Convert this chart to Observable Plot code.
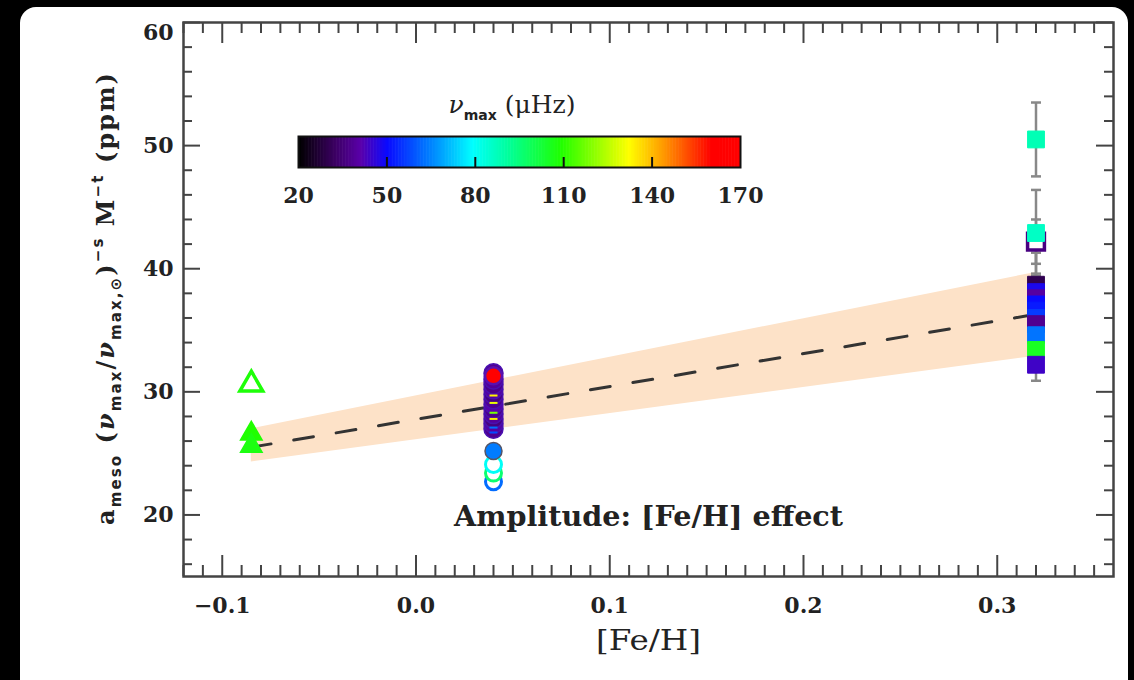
<!DOCTYPE html>
<html><head><meta charset="utf-8">
<script src="https://cdn.jsdelivr.net/npm/d3@7"></script>
<script src="https://cdn.jsdelivr.net/npm/@observablehq/plot@0.6"></script>
<style>
html,body{margin:0;padding:0;background:#000;width:1134px;height:680px;overflow:hidden;}
#panel{position:absolute;left:20px;top:7px;width:1108px;height:700px;background:#fff;border-radius:16px;}
#main{position:absolute;left:0;top:0;}
#cbar{position:absolute;left:268px;top:86px;}
</style></head><body>
<div id="panel"></div>
<div id="main"></div>
<div id="cbar"></div>
<script>
// ---------- data ----------
// NGC 6811-like group (triangles)
const triFeH   = [-0.085, -0.085, -0.085];
const triAmp   = [30.6, 26.6, 25.6];
const triNumax = [108, 109, 107];
const triOpen  = [true, false, false];

// NGC 6819-like group (circles)
const circFeH   = [0.04, 0.04, 0.04, 0.04, 0.04, 0.04, 0.04, 0.04, 0.04, 0.04, 0.04, 0.04, 0.04];
const circAmp   = [27.0, 27.4, 27.8, 28.2, 28.6, 29.0, 29.4, 29.8, 30.2, 30.6, 31.0, 31.5, 31.3];
const circNumax = [38, 40, 36, 39, 37, 41, 38, 36, 40, 37, 39, 38, 167];
const circMarkAmp   = [29.7, 29.1, 28.3, 27.8, 27.1, 26.7];
const circMarkNumax = [133, 130, 118, 134, 62, 58];
const circLowAmp   = [22.7, 23.4, 24.1, 25.2];
const circLowNumax = [62, 96, 80, 64];
const circLowOpen  = [true, true, true, false];

// NGC 6791-like group (squares)
const sqFeH   = [0.32, 0.32, 0.32, 0.32, 0.32, 0.32, 0.32, 0.32, 0.32, 0.32, 0.32, 0.32, 0.32];
const sqAmp   = [50.5, 42.2, 42.9, 38.7, 38.1, 37.6, 37.1, 36.6, 36.0, 35.5, 34.6, 33.4, 32.2];
const sqErr   = [3.0, 1.8, 3.5, 2.6, 1.5, 1.5, 1.4, 1.5, 1.4, 1.3, 1.4, 1.2, 1.3];
const sqNumax = [88, 36, 86, 30, 48, 40, 50, 52, 56, 38, 63, 105, 44];
const sqOpen  = [false, true, false, false, false, false, false, false, false, false, false, false, false];

// fit line and band
const fitFeH = [-0.085, 0.32];
const fitAmp = [25.5, 36.3];
const bandLo = [24.3, 32.9];
const bandHi = [27.0, 39.7];

// axes / ticks
const xMajor = [-0.1, 0.0, 0.1, 0.2, 0.3];
const yMajor = [20, 30, 40, 50, 60];
const cbTicks = [20, 50, 80, 110, 140, 170];
const cbInnerTicks = [50, 80, 110, 140];

// colour table (nu_max in muHz)
const cbStops  = [20, 32, 41, 50, 64.5, 79, 90.5, 109, 132, 143, 160, 170];
const cbColors = ["#000000", "#3a0060", "#5a00aa", "#0a0aff", "#0080ff", "#00ffff", "#00ffa0", "#20ff00", "#ffff00", "#ffa000", "#ff0000", "#ff0000"];

// ---------- build ----------
const colorScale = {type: "linear", domain: cbStops, range: cbColors};
const L = 183, R = 1113, T = 22, B = 576;
const W = 1134, H = 680;
const pw = R - L, ph = B - T;

const tri = triAmp.map((y, i) => ({x: triFeH[i], y, c: triNumax[i], open: triOpen[i]}));
const circ = circAmp.map((y, i) => ({x: circFeH[i], y, c: circNumax[i]}));
const circMain = circ.slice(0, circ.length - 1);
const circRed = circ.slice(circ.length - 1);
const circMarks = circMarkAmp.map((y, i) => ({x: circFeH[0], y, c: circMarkNumax[i]}));
const circLow = circLowAmp.map((y, i) => ({x: circFeH[0], y, c: circLowNumax[i], open: circLowOpen[i]}));
const sq = sqAmp.map((y, i) => ({x: sqFeH[i], y, e: sqErr[i], c: sqNumax[i], open: sqOpen[i]}));
const caps = sq.flatMap(d => [{x: d.x, y: d.y - d.e}, {x: d.x, y: d.y + d.e}]);
const fit = fitFeH.map((x, i) => ({x, y: fitAmp[i], lo: bandLo[i], hi: bandHi[i]}));

const dash = {draw(ctx, size) { const w = Math.sqrt(size / Math.PI); ctx.moveTo(-w, 0); ctx.lineTo(w, 0); }};

const xMinor = d3.range(-12, 36).map(i => i / 100).filter(v => !xMajor.some(m => Math.abs(m - v) < 1e-9));
const yMinor = d3.range(16, 60, 2).filter(v => v % 10 !== 0);

const tickCol = "#444";
const fontSerif = "'DejaVu Serif', serif";

const chart = Plot.plot({
  width: W, height: H,
  marginLeft: L, marginRight: W - R, marginTop: T, marginBottom: H - B,
  style: {background: "transparent", fontFamily: fontSerif, color: "#222"},
  x: {domain: [-0.12, 0.36], label: null},
  y: {domain: [15, 60], label: null},
  color: colorScale,
  marks: [
    Plot.areaY(fit, {x: "x", y1: "lo", y2: "hi", fill: "#fde2c8"}),
    Plot.line(fit, {x: "x", y: "y", stroke: "#333", strokeWidth: 3, strokeDasharray: "20,23"}),
    // triangles
    Plot.dot(tri.filter(d => !d.open), {x: "x", y: "y", symbol: "triangle", r: 8, fill: "c", stroke: "c", strokeWidth: 1.5}),
    Plot.dot(tri.filter(d => d.open), {x: "x", y: "y", symbol: "triangle", r: 8.5, fill: "white", stroke: "c", strokeWidth: 3.5}),
    // circles
    Plot.dot(circLow, {filter: d => d.open, x: "x", y: "y", r: 8, fill: "white", stroke: "c", strokeWidth: 3}),
    Plot.dot(circMain, {x: "x", y: "y", r: 9.5, fill: "c", stroke: "#4a10b0", strokeWidth: 1.5}),
    Plot.dot(circRed, {x: "x", y: "y", r: 8.5, fill: "c", stroke: "#5a10b0", strokeWidth: 2.5}),
    Plot.dot(circMarks, {x: "x", y: "y", symbol: dash, r: 4, fill: "none", stroke: "c", strokeWidth: 2}),
    Plot.dot(circLow, {filter: d => !d.open, x: "x", y: "y", r: 8.5, fill: "c", stroke: "#556", strokeWidth: 1.5}),
    // squares with error bars
    Plot.ruleX(sq, {x: "x", y1: d => d.y - d.e, y2: d => d.y + d.e, stroke: "#888", strokeWidth: 2.5}),
    Plot.dot(caps, {x: "x", y: "y", symbol: dash, r: 5, fill: "none", stroke: "#888", strokeWidth: 2.5}),
    Plot.dot(sq.filter(d => d.open), {x: "x", y: "y", symbol: "square", r: 9.5, fill: "white", stroke: "c", strokeWidth: 3.5}),
    Plot.dot(sq.filter(d => !d.open), {x: "x", y: "y", symbol: "square", r: 9.5, fill: "c", stroke: "c", strokeWidth: 1}),
    // frame and ticks (inward, mirrored)
    Plot.frame({stroke: tickCol, strokeWidth: 2.5}),
    Plot.tickX(xMajor, {x: d => d, insetTop: ph - 21, stroke: tickCol, strokeWidth: 2}),
    Plot.tickX(xMinor, {x: d => d, insetTop: ph - 11, stroke: tickCol, strokeWidth: 2}),
    Plot.tickX(xMajor, {x: d => d, insetBottom: ph - 21, stroke: tickCol, strokeWidth: 2}),
    Plot.tickX(xMinor, {x: d => d, insetBottom: ph - 11, stroke: tickCol, strokeWidth: 2}),
    Plot.tickY(yMajor, {y: d => d, insetRight: pw - 17, stroke: tickCol, strokeWidth: 2}),
    Plot.tickY(yMinor, {y: d => d, insetRight: pw - 9, stroke: tickCol, strokeWidth: 2}),
    Plot.tickY(yMajor, {y: d => d, insetLeft: pw - 17, stroke: tickCol, strokeWidth: 2}),
    Plot.tickY(yMinor, {y: d => d, insetLeft: pw - 9, stroke: tickCol, strokeWidth: 2}),
    // tick labels
    Plot.axisX(xMajor, {tickSize: 0, tickPadding: 21, fontSize: 22, fontWeight: "bold", tickFormat: d => d.toFixed(1).replace("-", "\u2212"), label: null}),
    Plot.axisY(yMajor.filter(v => v !== 60), {tickSize: 0, tickPadding: 10, fontSize: 22, fontWeight: "bold", label: null}),
    Plot.axisY([60], {tickSize: 0, tickPadding: 10, dy: 10, fontSize: 22, fontWeight: "bold", label: null}),
    // texts
    Plot.text(["[Fe/H]"], {frameAnchor: "bottom", dy: 73, fontSize: 27, fontFamily: fontSerif, fill: "#222"}),
    Plot.text(["Amplitude: [Fe/H] effect"], {frameAnchor: "bottom", dy: -51, fontSize: 27, fontFamily: fontSerif, fontWeight: "bold", fill: "#222"})
  ]
});
document.getElementById("main").appendChild(chart);

const svg = d3.select(chart);
svg.selectAll("text").filter(function() { return this.textContent === "Amplitude: [Fe/H] effect"; })
  .attr("textLength", 389).attr("lengthAdjust", "spacingAndGlyphs");
svg.selectAll("text").filter(function() { return this.textContent === "[Fe/H]"; })
  .attr("textLength", 105).attr("lengthAdjust", "spacingAndGlyphs");

// y-axis label with sub/superscripts
const yl = svg.append("text")
  .attr("transform", "translate(114,299) rotate(-90)")
  .attr("text-anchor", "middle")
  .attr("font-family", fontSerif)
  .attr("font-weight", "bold")
  .attr("font-size", 24)
  .attr("fill", "#222")
  .attr("textLength", 452)
  .attr("lengthAdjust", "spacing");
const sans = "'DejaVu Sans', sans-serif";
function part(txt, opts = {}) {
  const t = yl.append("tspan").text(txt);
  if (opts.dy) t.attr("dy", opts.dy);
  if (opts.size) t.attr("font-size", opts.size);
  if (opts.family) t.attr("font-family", opts.family);
  if (opts.italic) t.attr("font-style", "italic");
  return t;
}
part("a");
part("meso", {dy: 7, size: 15, family: sans});
part(" (", {dy: -7});
part("\u03bd", {italic: true});
part("max", {dy: 7, size: 15, family: sans});
part("/", {dy: -7});
part("\u03bd", {italic: true});
part("max,\u2299", {dy: 7, size: 15, family: sans});
part(")", {dy: -7});
part("\u2212s", {dy: -11, size: 15, family: sans});
part(" M", {dy: 11});
part("\u2212t", {dy: -11, size: 15, family: sans});
part(" (ppm)", {dy: 11});

// ---------- colour bar ----------
const cbW = 442, cbH = 31, cbML = 30, cbMT = 50;
const cbVals = d3.range(20, 170, 0.5);
const cb = Plot.plot({
  width: cbW + 2 * cbML, height: cbH + cbMT + 45,
  marginLeft: cbML, marginRight: cbML, marginTop: cbMT, marginBottom: 45,
  style: {background: "transparent", fontFamily: fontSerif, color: "#222"},
  x: {domain: [20, 170], label: null},
  color: colorScale,
  marks: [
    Plot.rect(cbVals, {x1: d => d, x2: d => Math.min(170, d + 0.7), fill: d => d}),
    Plot.tickX(cbInnerTicks, {x: d => d, insetTop: cbH - 10, stroke: "#111", strokeWidth: 2}),
    Plot.frame({stroke: "#111", strokeWidth: 2}),
    Plot.axisX(cbTicks, {tickSize: 0, tickPadding: 20, fontSize: 22, fontWeight: "bold", label: null})
  ]
});
document.getElementById("cbar").appendChild(cb);
const ct = d3.select(cb).append("text")
  .attr("x", 244).attr("y", 27)
  .attr("text-anchor", "middle")
  .attr("font-family", fontSerif)
  .attr("font-size", 25)
  .attr("fill", "#222");
ct.append("tspan").attr("font-style", "italic").text("\u03bd");
ct.append("tspan").attr("dy", 7).attr("font-size", 14).attr("font-family", sans).attr("font-weight", "bold").text("max");
ct.append("tspan").attr("dy", -7).text(" (\u03bcHz)");
</script>
</body></html>
